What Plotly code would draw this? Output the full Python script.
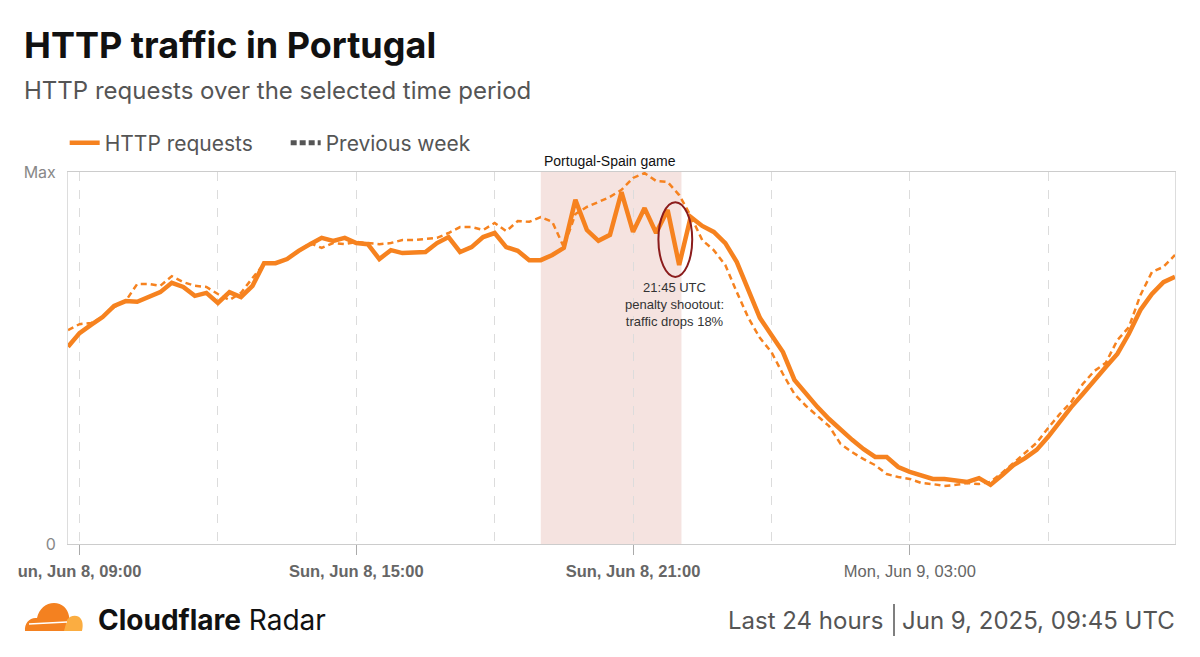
import pandas as pd
import plotly.graph_objects as go

# 15-minute buckets, last 24 hours, values as % of the period max
times = pd.date_range("2025-06-08 08:45", periods=97, freq="15min")

http_requests = [
    53.0, 56.7, 58.9, 61.0, 64.0, 65.3, 65.1, 66.4, 67.7, 70.2,
    69.1, 66.7, 67.5, 64.8, 67.7, 66.4, 69.4, 75.5, 75.5, 76.6,
    78.8, 80.6, 82.3, 81.5, 82.3, 80.9, 80.6, 76.6, 79.0, 78.2,
    78.2, 78.5, 80.9, 82.5, 78.5, 79.8, 82.5, 83.6, 79.8, 78.8,
    76.3, 76.3, 77.7, 79.6, 92.5, 84.4, 81.5, 83.1, 94.6, 83.9,
    90.3, 83.6, 89.8, 75.0, 87.9, 85.5, 83.9, 80.9, 75.8, 68.3,
    60.8, 56.2, 51.6, 44.1, 40.3, 36.8, 33.6, 30.6, 28.0, 25.5,
    23.4, 23.4, 20.7, 19.4, 18.3, 17.5, 17.5, 17.2, 16.7, 17.7,
    15.9, 18.5, 21.2, 23.1, 25.3, 28.8, 32.8, 36.8, 40.3, 44.1,
    47.6, 51.1, 56.5, 62.9, 67.2, 70.4, 71.8,
]

previous_week = [
    57.5, 59.1, 59.4, 61.0, 63.7, 65.3, 69.9, 69.9, 69.4, 72.0,
    70.4, 69.4, 69.1, 67.2, 65.6, 67.5, 71.5, 75.3, 75.5, 76.6,
    78.8, 80.9, 79.6, 80.9, 80.6, 81.2, 80.9, 80.6, 80.9, 81.7,
    81.7, 82.0, 82.3, 83.6, 85.2, 85.2, 84.4, 86.3, 84.1, 86.8,
    86.6, 87.9, 86.6, 79.8, 88.7, 90.6, 91.9, 93.3, 95.2, 98.4,
    99.7, 97.6, 97.3, 93.8, 88.2, 81.7, 79.0, 75.0, 67.7, 60.8,
    55.4, 51.6, 45.7, 40.3, 37.1, 34.4, 31.7, 26.9, 24.7, 22.8,
    21.2, 18.8, 18.0, 17.5, 16.4, 16.1, 15.6, 15.9, 16.4, 16.1,
    16.7, 19.1, 21.8, 24.5, 27.2, 31.2, 34.9, 38.2, 43.0, 46.5,
    48.7, 54.8, 58.3, 66.9, 73.1, 74.5, 77.7,
]

tick_vals = ["2025-06-08 09:00", "2025-06-08 15:00", "2025-06-08 21:00", "2025-06-09 03:00"]
tick_text = ["<b>un, Jun 8, 09:00</b>", "<b>Sun, Jun 8, 15:00</b>",
             "<b>Sun, Jun 8, 21:00</b>", "Mon, Jun 9, 03:00"]

game_start = "2025-06-08 19:00"
game_end = "2025-06-08 22:03"

ORANGE = "#f6821f"
W, H = 1200, 657
L, R, T, B = 68, 25, 172, 113


def px(x, y):
    # pixel position -> paper coords
    return (x - L) / (W - L - R), (H - B - y) / (H - T - B)


def px_path(cmds):
    out = []
    for cmd, pts in cmds:
        s = cmd
        for i in range(0, len(pts), 2):
            xx, yy = px(pts[i], pts[i + 1])
            s += f" {xx:.4f},{yy:.4f}"
        out.append(s)
    return " ".join(out) + " Z"


fig = go.Figure()

fig.add_trace(go.Scatter(
    x=times, y=previous_week, mode="lines", name="Previous week",
    line=dict(color=ORANGE, width=2.5, dash="6px,4px"),
    showlegend=False, hoverinfo="skip",
))
fig.add_trace(go.Scatter(
    x=times, y=http_requests, mode="lines", name="HTTP requests",
    line=dict(color=ORANGE, width=4.5), legendrank=1,
))
# legend swatch only (gray dashes like the original)
fig.add_trace(go.Scatter(
    x=[None], y=[None], mode="lines", name="Previous week",
    line=dict(color="#555555", width=5, dash="6px,3px"), legendrank=2,
))

# game window
fig.add_vrect(x0=game_start, x1=game_end, fillcolor="#f5e3e0", opacity=1,
              line_width=0, layer="below")
fig.add_annotation(x="2025-06-08 20:30", y=1, xref="x", yref="paper",
                   text="Portugal-Spain game", showarrow=False, yanchor="bottom",
                   yshift=1, font=dict(family="Liberation Sans, Arial", size=14, color="#111"))

# penalty shootout ellipse + note
fig.add_shape(type="circle", xref="x", yref="y",
              x0="2025-06-08 21:33", x1="2025-06-08 22:17", y0=71.8, y1=91.9,
              line=dict(color="#8b1c1c", width=2))
fig.add_annotation(x="2025-06-08 21:54", y=71.5, xref="x", yref="y",
                   text="21:45 UTC<br>penalty shootout:<br>traffic drops 18%",
                   showarrow=False, yanchor="top", align="center",
                   font=dict(family="Liberation Sans, Arial", size=13, color="#333"))

# titles
fig.add_annotation(x=px(22, 0)[0], y=px(0, 45)[1], xref="paper", yref="paper",
                   text="<b>HTTP traffic in Portugal</b>", showarrow=False,
                   xanchor="left", yanchor="middle",
                   font=dict(family="Inter", size=36, color="#111"))
fig.add_annotation(x=px(22, 0)[0], y=px(0, 91)[1], xref="paper", yref="paper",
                   text="HTTP requests over the selected time period", showarrow=False,
                   xanchor="left", yanchor="middle",
                   font=dict(family="Inter", size=24, color="#555"))

# footer: cloud logo, brand, period
fig.add_shape(type="path", xref="paper", yref="paper", line_width=0, fillcolor="#f48120",
              path=px_path([("M", [25, 631]), ("C", [24, 623, 30, 617, 37, 618]),
                            ("C", [39, 609, 46, 603, 54, 603]),
                            ("C", [62, 603, 68, 609, 69, 616]), ("L", [71, 631])]))
fig.add_shape(type="path", xref="paper", yref="paper", line_width=0, fillcolor="#fbad41",
              path=px_path([("M", [64, 631]), ("L", [67, 620]),
                            ("C", [70, 615, 78, 614, 81, 619]),
                            ("C", [83, 622, 83, 627, 82, 631])]))
x0, y0 = px(29, 624)
x1, y1 = px(67, 622)
fig.add_shape(type="line", xref="paper", yref="paper", x0=x0, y0=y0, x1=x1, y1=y1,
              line=dict(color="white", width=1.5))
fig.add_annotation(x=px(96, 0)[0], y=px(0, 620)[1], xref="paper", yref="paper",
                   text="<b>Cloudflare</b> Radar", showarrow=False,
                   xanchor="left", yanchor="middle",
                   font=dict(family="Inter", size=28, color="#111"))
fig.add_annotation(x=px(885, 0)[0], y=px(0, 620)[1], xref="paper", yref="paper",
                   text="Last 24 hours", showarrow=False, xanchor="right", yanchor="middle",
                   font=dict(family="Inter", size=24, color="#555"))
fig.add_annotation(x=px(1177, 0)[0], y=px(0, 620)[1], xref="paper", yref="paper",
                   text="Jun 9, 2025, 09:45 UTC", showarrow=False, xanchor="right",
                   yanchor="middle", font=dict(family="Inter", size=24, color="#555"))
x0, y0 = px(894, 604)
x1, y1 = px(894, 636)
fig.add_shape(type="line", xref="paper", yref="paper", x0=x0, y0=y0, x1=x1, y1=y1,
              line=dict(color="#555", width=1.5))

fig.update_layout(
    width=W, height=H,
    margin=dict(l=L, r=R, t=T, b=B),
    paper_bgcolor="white", plot_bgcolor="white",
    font=dict(family="Inter", color="#555"),
    legend=dict(orientation="h", x=-0.003, y=px(0, 143)[1], xanchor="left",
                yanchor="middle", font=dict(size=21, color="#555"), itemwidth=30,
                entrywidth=176, entrywidthmode="pixels"),
    xaxis=dict(
        type="date", range=[times[0], times[-1]],
        tickvals=tick_vals, ticktext=tick_text,
        ticks="outside", ticklen=10, tickcolor="#aaa", ticklabelstandoff=2,
        tickfont=dict(family="Liberation Sans, Arial", size=16.5, color="#666"),
        showgrid=True, gridcolor="#dcdcdc", griddash="dash", gridwidth=1,
        minor=dict(dtick=3 * 3600 * 1000, tick0="2025-06-08 09:00", showgrid=True,
                   gridcolor="#dcdcdc", griddash="dash", ticks=""),
        showline=True, linecolor="#ccc", mirror=True, zeroline=False,
    ),
    yaxis=dict(
        range=[0, 100], tickvals=[0, 100], ticktext=["0", "Max"],
        tickfont=dict(size=16, color="#888"), ticks="", ticklabelstandoff=8,
        showgrid=False, zeroline=False,
        showline=True, linecolor="#ddd", mirror=True,
    ),
)

fig.write_html("out.html", config={"displayModeBar": False},
               post_script="document.body.style.margin='0';")
